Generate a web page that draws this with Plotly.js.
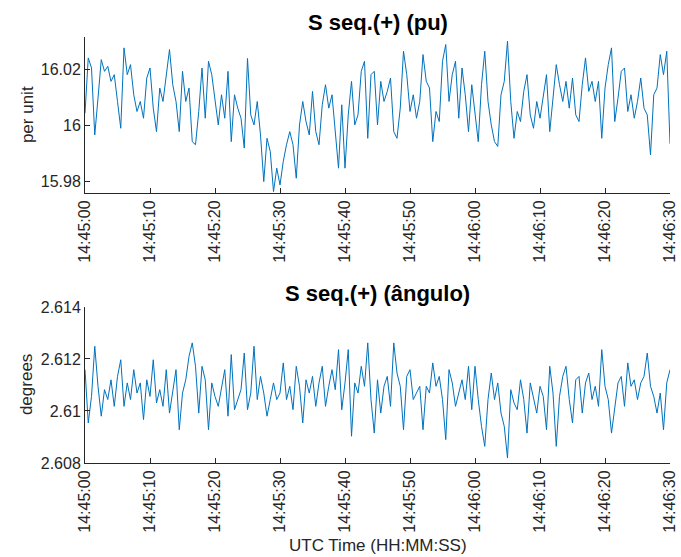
<!DOCTYPE html>
<html>
<head>
<meta charset="utf-8">
<script src="https://cdn.plot.ly/plotly-3.0.1.min.js"></script>
<style>
  html, body { margin: 0; padding: 0; background: #ffffff; }
  #chart { width: 681px; height: 557px; }
</style>
</head>
<body>
<div id="chart"></div>
<script>
// Positive-sequence quantity, sampled every 0.5 s from 14:45:00 to 14:46:30 (UTC)
const startDay = '2021-06-01';
const startHour = 14;
const startMinute = 45;
const sampleStep = 0.5; // seconds

// Magnitude, per unit
const seqMagnitude = [
  16.0044,16.0242,16.0206,15.9966,16.0098,16.0236,16.0194,16.0212,16.0158,16.0182,
  16.0086,15.9990,16.0278,16.0182,16.0218,16.0110,16.0050,16.0086,16.0026,16.0170,
  16.0206,16.0062,15.9978,16.0134,16.0086,16.0182,16.0272,16.0146,16.0086,15.9978,
  16.0194,16.0086,16.0134,15.9942,15.9931,16.0050,16.0206,16.0026,16.0230,16.0182,
  16.0086,16.0002,16.0110,16.0026,16.0194,15.9942,16.0110,16.0062,16.0026,15.9919,
  16.0240,16.0038,16.0002,16.0086,15.9966,15.9799,15.9954,15.9907,15.9763,15.9847,
  15.9787,15.9871,15.9931,15.9978,15.9931,15.9811,16.0002,16.0086,16.0014,15.9966,
  16.0122,15.9978,15.9931,16.0074,16.0146,16.0062,16.0110,15.9966,15.9847,16.0074,
  15.9847,16.0038,16.0158,16.0002,16.0038,16.0194,16.0230,15.9954,16.0182,16.0194,
  16.0002,16.0158,16.0086,16.0122,16.0170,15.9978,15.9954,16.0062,16.0266,16.0182,
  16.0050,16.0110,16.0026,16.0086,16.0254,16.0158,16.0134,15.9942,16.0050,16.0014,
  16.0230,16.0290,16.0086,16.0182,16.0230,16.0026,16.0206,16.0110,15.9978,16.0146,
  16.0050,15.9942,16.0146,16.0266,16.0086,16.0002,15.9942,15.9925,16.0110,16.0158,
  16.0302,16.0086,15.9954,16.0050,16.0014,16.0122,16.0182,16.0038,15.9990,16.0086,
  16.0026,16.0110,16.0182,15.9978,16.0110,16.0218,16.0146,16.0086,16.0158,16.0062,
  16.0170,16.0038,16.0014,16.0146,16.0242,16.0122,16.0158,16.0086,16.0158,15.9954,
  16.0134,16.0218,16.0278,16.0014,16.0098,16.0194,16.0206,16.0050,16.0110,16.0026,
  16.0086,16.0170,16.0062,16.0038,15.9895,16.0110,16.0134,16.0254,16.0182,16.0266,
  15.9935
];

// Angle, degrees
const seqAngle = [
  2.61159,2.60954,2.61056,2.61249,2.61095,2.60980,2.61082,2.61044,2.61120,2.61018,
  2.61133,2.61197,2.61018,2.61108,2.61044,2.61159,2.61069,2.61108,2.60967,2.61120,
  2.61056,2.61197,2.61031,2.61082,2.61018,2.61159,2.60992,2.61069,2.61159,2.60928,
  2.61069,2.61120,2.61210,2.61262,2.61172,2.60992,2.61172,2.61120,2.60928,2.61108,
  2.61056,2.61018,2.61082,2.61159,2.60980,2.61217,2.61005,2.61044,2.61082,2.61223,
  2.61005,2.61069,2.61249,2.61044,2.61133,2.61069,2.60980,2.61044,2.61108,2.61044,
  2.61069,2.61185,2.61044,2.61095,2.61005,2.61172,2.61095,2.60954,2.61120,2.61069,
  2.61133,2.61018,2.61108,2.61172,2.61018,2.61095,2.61159,2.61082,2.61236,2.61005,
  2.61108,2.61236,2.60903,2.61108,2.61069,2.61172,2.61095,2.61262,2.61044,2.60915,
  2.61120,2.60992,2.61095,2.61133,2.61018,2.61262,2.61146,2.61095,2.60928,2.61133,
  2.61159,2.61044,2.61069,2.61095,2.60928,2.61095,2.61069,2.61185,2.61095,2.61133,
  2.61044,2.60890,2.61159,2.61108,2.61018,2.61069,2.61120,2.61044,2.61172,2.61005,
  2.61172,2.61044,2.60941,2.60864,2.61044,2.61146,2.61044,2.61108,2.60992,2.60941,
  2.60819,2.61082,2.61031,2.61005,2.61120,2.61044,2.60915,2.61108,2.61044,2.60992,
  2.61095,2.61056,2.60928,2.61172,2.61069,2.60864,2.61056,2.61133,2.61172,2.61044,
  2.60954,2.61120,2.61133,2.60992,2.61108,2.61146,2.61044,2.61095,2.61018,2.61236,
  2.61095,2.61044,2.60915,2.61018,2.61108,2.61133,2.61018,2.61185,2.61095,2.61120,
  2.61044,2.61108,2.61133,2.61223,2.61095,2.61056,2.60992,2.61069,2.60928,2.61108,
  2.61159
];

// Axis ticks
const magTickVals = [15.98, 16, 16.02];
const magTickText = ['15.98', '16', '16.02'];
const angTickVals = [2.608, 2.61, 2.612, 2.614];
const angTickText = ['2.608', '2.61', '2.612', '2.614'];

function pad2(n) { return (n < 10 ? '0' : '') + n; }
function stamp(sec) {
  const totalMin = startMinute + Math.floor(sec / 60);
  const s = sec - 60 * Math.floor(sec / 60);
  const sText = (s < 10 ? '0' : '') + s.toFixed(1);
  return startDay + ' ' + pad2(startHour + Math.floor(totalMin / 60)) + ':' +
         pad2(totalMin % 60) + ':' + sText;
}
function timesFor(values) {
  return values.map(function (_, i) { return stamp(i * sampleStep); });
}

const timeStart = stamp(0);
const timeEnd = stamp(90);

const ink = '#262626';
const family = '"Liberation Sans", Arial, Helvetica, sans-serif';
const lineBlue = '#0072BD';

const traces = [
  { x: timesFor(seqMagnitude), y: seqMagnitude, xaxis: 'x', yaxis: 'y',
    type: 'scatter', mode: 'lines', line: { color: lineBlue, width: 1 },
    hoverinfo: 'x+y' },
  { x: timesFor(seqAngle), y: seqAngle, xaxis: 'x2', yaxis: 'y2',
    type: 'scatter', mode: 'lines', line: { color: lineBlue, width: 1 },
    hoverinfo: 'x+y' }
];

function timeAxis(anchor) {
  return {
    type: 'date', anchor: anchor, domain: [0, 1],
    range: [timeStart, timeEnd],
    tick0: timeStart, dtick: 10000, tickformat: '%H:%M:%S',
    tickangle: -90, ticks: 'inside', ticklen: 5, tickwidth: 1, tickcolor: ink,
    showline: true, linecolor: ink, linewidth: 1, mirror: false,
    showgrid: false, zeroline: false,
    tickfont: { family: family, size: 16, color: ink }
  };
}
function valueAxis(anchor, domain, range, vals, text) {
  return {
    anchor: anchor, domain: domain, range: range,
    tickmode: 'array', tickvals: vals, ticktext: text,
    ticks: 'inside', ticklen: 5, tickwidth: 1, tickcolor: ink,
    showline: true, linecolor: ink, linewidth: 1, mirror: false,
    showgrid: false, zeroline: false,
    tickfont: { family: family, size: 16, color: ink }
  };
}

const layout = {
  width: 681, height: 557,
  margin: { l: 85, r: 11, t: 37, b: 94 },
  paper_bgcolor: '#ffffff', plot_bgcolor: '#ffffff',
  showlegend: false,
  xaxis: timeAxis('y'),
  xaxis2: timeAxis('y2'),
  yaxis: valueAxis('x', [0.6338, 1], [15.9758, 16.0317], magTickVals, magTickText),
  yaxis2: valueAxis('x2', [0, 0.3662], [2.608, 2.614], angTickVals, angTickText),
  annotations: [
    { text: '<b>S seq.(+) (pu)</b>', xref: 'paper', yref: 'paper', x: 0.5, y: 1.035,
      xanchor: 'center', yanchor: 'middle', showarrow: false,
      font: { family: family, size: 22, color: '#000000' } },
    { text: '<b>S seq.(+) (ângulo)</b>', xref: 'paper', yref: 'paper', x: 0.5, y: 0.397,
      xanchor: 'center', yanchor: 'middle', showarrow: false,
      font: { family: family, size: 22, color: '#000000' } },
    { text: 'per unit', xref: 'paper', yref: 'paper', x: -0.099, y: 0.8169,
      xanchor: 'center', yanchor: 'middle', textangle: -90, showarrow: false,
      font: { family: family, size: 17, color: ink } },
    { text: 'degrees', xref: 'paper', yref: 'paper', x: -0.099, y: 0.1831,
      xanchor: 'center', yanchor: 'middle', textangle: -90, showarrow: false,
      font: { family: family, size: 17, color: ink } },
    { text: 'UTC Time (HH:MM:SS)', xref: 'paper', yref: 'paper', x: 0.5, y: -0.1925,
      xanchor: 'center', yanchor: 'middle', showarrow: false,
      font: { family: family, size: 17, color: ink } }
  ]
};

Plotly.newPlot('chart', traces, layout, { displayModeBar: false, staticPlot: true });
</script>
</body>
</html>
